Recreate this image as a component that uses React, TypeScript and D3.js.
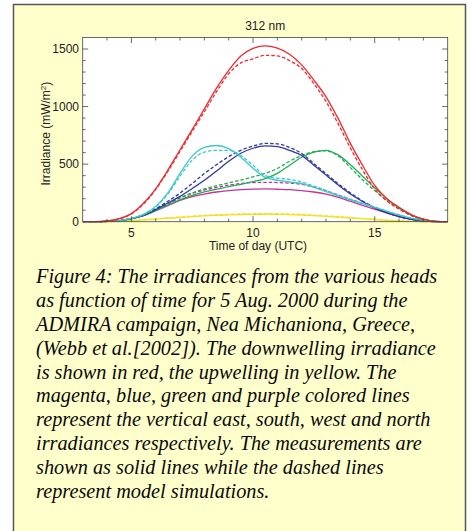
import React from "react";
import * as d3 from "d3";

const hours = [3, 3.5, 4, 4.5, 5, 5.5, 6, 6.5, 7, 7.5, 8, 8.5, 9, 9.5, 10, 10.5, 11, 11.5, 12, 12.5, 13, 13.5, 14, 14.5, 15, 15.5, 16, 16.5, 17, 17.5, 18];

const downMeasured = [0, 0, 6, 26, 70, 160, 285, 448, 625, 800, 980, 1160, 1315, 1440, 1505, 1528, 1507, 1455, 1362, 1230, 1085, 895, 680, 490, 315, 200, 125, 62, 22, 3, 0];
const downModel = [0, 0, 5, 24, 67, 155, 280, 438, 610, 785, 955, 1130, 1285, 1380, 1415, 1445, 1440, 1400, 1330, 1200, 1045, 850, 640, 450, 285, 180, 110, 55, 18, 2, 0];

const northMeasured = [0, 0, 2, 10, 28, 63, 133, 250, 420, 570, 645, 662, 635, 560, 465, 385, 360, 345, 330, 298, 262, 225, 190, 158, 125, 90, 58, 32, 13, 2, 0];
const northModel = [0, 0, 2, 10, 28, 61, 128, 240, 395, 535, 605, 620, 620, 575, 490, 400, 378, 368, 345, 310, 272, 232, 195, 162, 128, 92, 60, 33, 13, 2, 0];

const southMeasured = [0, 0, 2, 9, 26, 54, 105, 162, 220, 288, 360, 440, 525, 595, 638, 658, 652, 620, 575, 490, 405, 318, 240, 175, 120, 78, 44, 20, 8, 1, 0];
const southModel = [0, 0, 2, 10, 28, 59, 112, 178, 248, 332, 418, 495, 565, 620, 657, 680, 676, 645, 592, 505, 418, 330, 250, 180, 122, 78, 44, 20, 7, 1, 0];

const westMeasured = [0, 0, 2, 8, 25, 52, 95, 145, 190, 228, 260, 282, 305, 325, 348, 375, 420, 490, 560, 605, 620, 580, 495, 395, 295, 200, 120, 60, 22, 3, 0];
const westModel = [0, 0, 2, 9, 27, 57, 105, 160, 210, 250, 285, 312, 338, 362, 390, 420, 462, 525, 575, 608, 615, 570, 470, 365, 270, 185, 110, 55, 20, 3, 0];

const eastMeasured = [0, 0, 2, 8, 25, 52, 95, 140, 185, 218, 240, 258, 270, 278, 283, 285, 282, 278, 270, 258, 240, 212, 178, 142, 108, 75, 45, 22, 8, 1, 0];
const eastModel = [0, 0, 2, 9, 27, 57, 103, 155, 205, 245, 275, 298, 318, 332, 340, 342, 340, 335, 325, 300, 268, 232, 195, 158, 122, 86, 54, 28, 10, 1, 0];

const upMeasured = [0, 0, 1, 4, 9, 15, 22, 30, 37, 44, 50, 55, 59, 62, 64, 65, 64, 62, 58, 53, 47, 40, 33, 26, 19, 12, 7, 3, 1, 0, 0];
const upModel = [0, 0, 1, 5, 10, 17, 25, 33, 41, 48, 55, 60, 64, 67, 69, 70, 69, 67, 63, 57, 51, 44, 36, 28, 21, 14, 8, 4, 1, 0, 0];

const xMajorTicks = [5, 10, 15];
const yMajorTicks = [0, 500, 1000, 1500];

const captionLines = [
  "Figure 4: The irradiances from the various heads",
  "as function of time for 5 Aug. 2000 during the",
  "ADMIRA campaign, Nea Michaniona, Greece,",
  "(Webb et al.[2002]). The downwelling irradiance",
  "is shown in red, the upwelling in yellow. The",
  "magenta, blue, green and purple colored lines",
  "represent the vertical east, south, west and north",
  "irradiances respectively. The measurements are",
  "shown as solid lines while the dashed lines",
  "represent model simulations.",
];

const seriesList = [
  { values: eastMeasured, color: "#c8329a", dashed: false },
  { values: eastModel, color: "#c8329a", dashed: true },
  { values: upMeasured, color: "#f2e21e", dashed: false },
  { values: upModel, color: "#f2e21e", dashed: true },
  { values: westMeasured, color: "#1fae52", dashed: false },
  { values: westModel, color: "#1fae52", dashed: true },
  { values: southMeasured, color: "#2e3a9e", dashed: false },
  { values: southModel, color: "#2e3a9e", dashed: true },
  { values: northMeasured, color: "#3cc8c8", dashed: false },
  { values: northModel, color: "#3cc8c8", dashed: true },
  { values: downMeasured, color: "#ee2a2e", dashed: false },
  { values: downModel, color: "#ee2a2e", dashed: true },
];

export default function App() {
  const W = 472;
  const H = 531;
  const left = 82.7, right = 447.7, top = 37.5, bottom = 221.7;
  const x = d3.scaleLinear().domain([3, 18]).range([left, right]);
  const y = d3.scaleLinear().domain([0, 1600]).range([bottom, top]);
  const line = d3
    .line<number>()
    .x((_, i) => x(hours[i]))
    .y((d) => y(d))
    .curve(d3.curveMonotoneX);

  const xMinor = d3.range(4, 18, 1);
  const yMinor = d3.range(100, 1600, 100);
  const sans = "Liberation Sans, Arial, sans-serif";
  const axisColor = "#444";

  return (
    <svg width={W} height={H} style={{ position: "absolute", left: 0, top: 0 }}>
      <rect x={0} y={0} width={W} height={H} fill="#ffffff" />
      <rect x={13.5} y={4.5} width={452} height={560} fill="#ffffcc" stroke="#555" strokeWidth={1.5} />
      <rect x={left} y={top} width={right - left} height={bottom - top} fill="#ffffff" />
      <defs>
        <clipPath id="plotclip">
          <rect x={left} y={top - 2} width={right - left} height={bottom - top + 4} />
        </clipPath>
      </defs>
      <g clipPath="url(#plotclip)">
        {seriesList.map((s, i) => (
          <path
            key={i}
            d={line(s.values) || ""}
            fill="none"
            stroke={s.color}
            strokeWidth={1.3}
            strokeDasharray={s.dashed ? "3.5,2" : undefined}
          />
        ))}
      </g>
      <rect x={left} y={top} width={right - left} height={bottom - top} fill="none" stroke={axisColor} strokeWidth={0.8} />
      {xMinor.map((t) => {
        const major = xMajorTicks.includes(t);
        const len = major ? 5.5 : 3;
        return (
          <g key={"xt" + t}>
            <line x1={x(t)} x2={x(t)} y1={bottom} y2={bottom - len} stroke={axisColor} strokeWidth={0.8} />
            <line x1={x(t)} x2={x(t)} y1={top} y2={top + len} stroke={axisColor} strokeWidth={0.8} />
          </g>
        );
      })}
      {yMinor.map((v) => {
        const major = yMajorTicks.includes(v);
        const len = major ? 5.5 : 3;
        return (
          <g key={"yt" + v}>
            <line x1={left} x2={left + len} y1={y(v)} y2={y(v)} stroke={axisColor} strokeWidth={0.8} />
            <line x1={right} x2={right - len} y1={y(v)} y2={y(v)} stroke={axisColor} strokeWidth={0.8} />
          </g>
        );
      })}
      {xMajorTicks.map((t) => (
        <text key={"xl" + t} x={x(t)} y={237} textAnchor="middle" fontFamily={sans} fontSize={12} fill="#222">
          {t}
        </text>
      ))}
      {yMajorTicks.map((v) => (
        <text key={"yl" + v} x={79} y={y(v) + 4.3} textAnchor="end" fontFamily={sans} fontSize={12} fill="#222">
          {v}
        </text>
      ))}
      <text x={(left + right) / 2} y={29.5} textAnchor="middle" fontFamily={sans} fontSize={12} fill="#222">
        312 nm
      </text>
      <text x={258} y={250} textAnchor="middle" fontFamily={sans} fontSize={12} fill="#222">
        Time of day (UTC)
      </text>
      <text
        transform={`translate(49.5,${(top + bottom) / 2 + 4}) rotate(-90)`}
        textAnchor="middle"
        fontFamily={sans}
        fontSize={12}
        fill="#222"
      >
        Irradiance (mW/m<tspan dy={-4} fontSize={8}>2</tspan>
        <tspan dy={4}>)</tspan>
      </text>
      {captionLines.map((l, i) => (
        <text
          key={"c" + i}
          x={36}
          y={283.3 + i * 23.8}
          fontFamily="Liberation Serif, Times New Roman, serif"
          fontStyle="italic"
          fontSize={20.3}
          fill="#0a0a0a"
        >
          {l}
        </text>
      ))}
    </svg>
  );
}
